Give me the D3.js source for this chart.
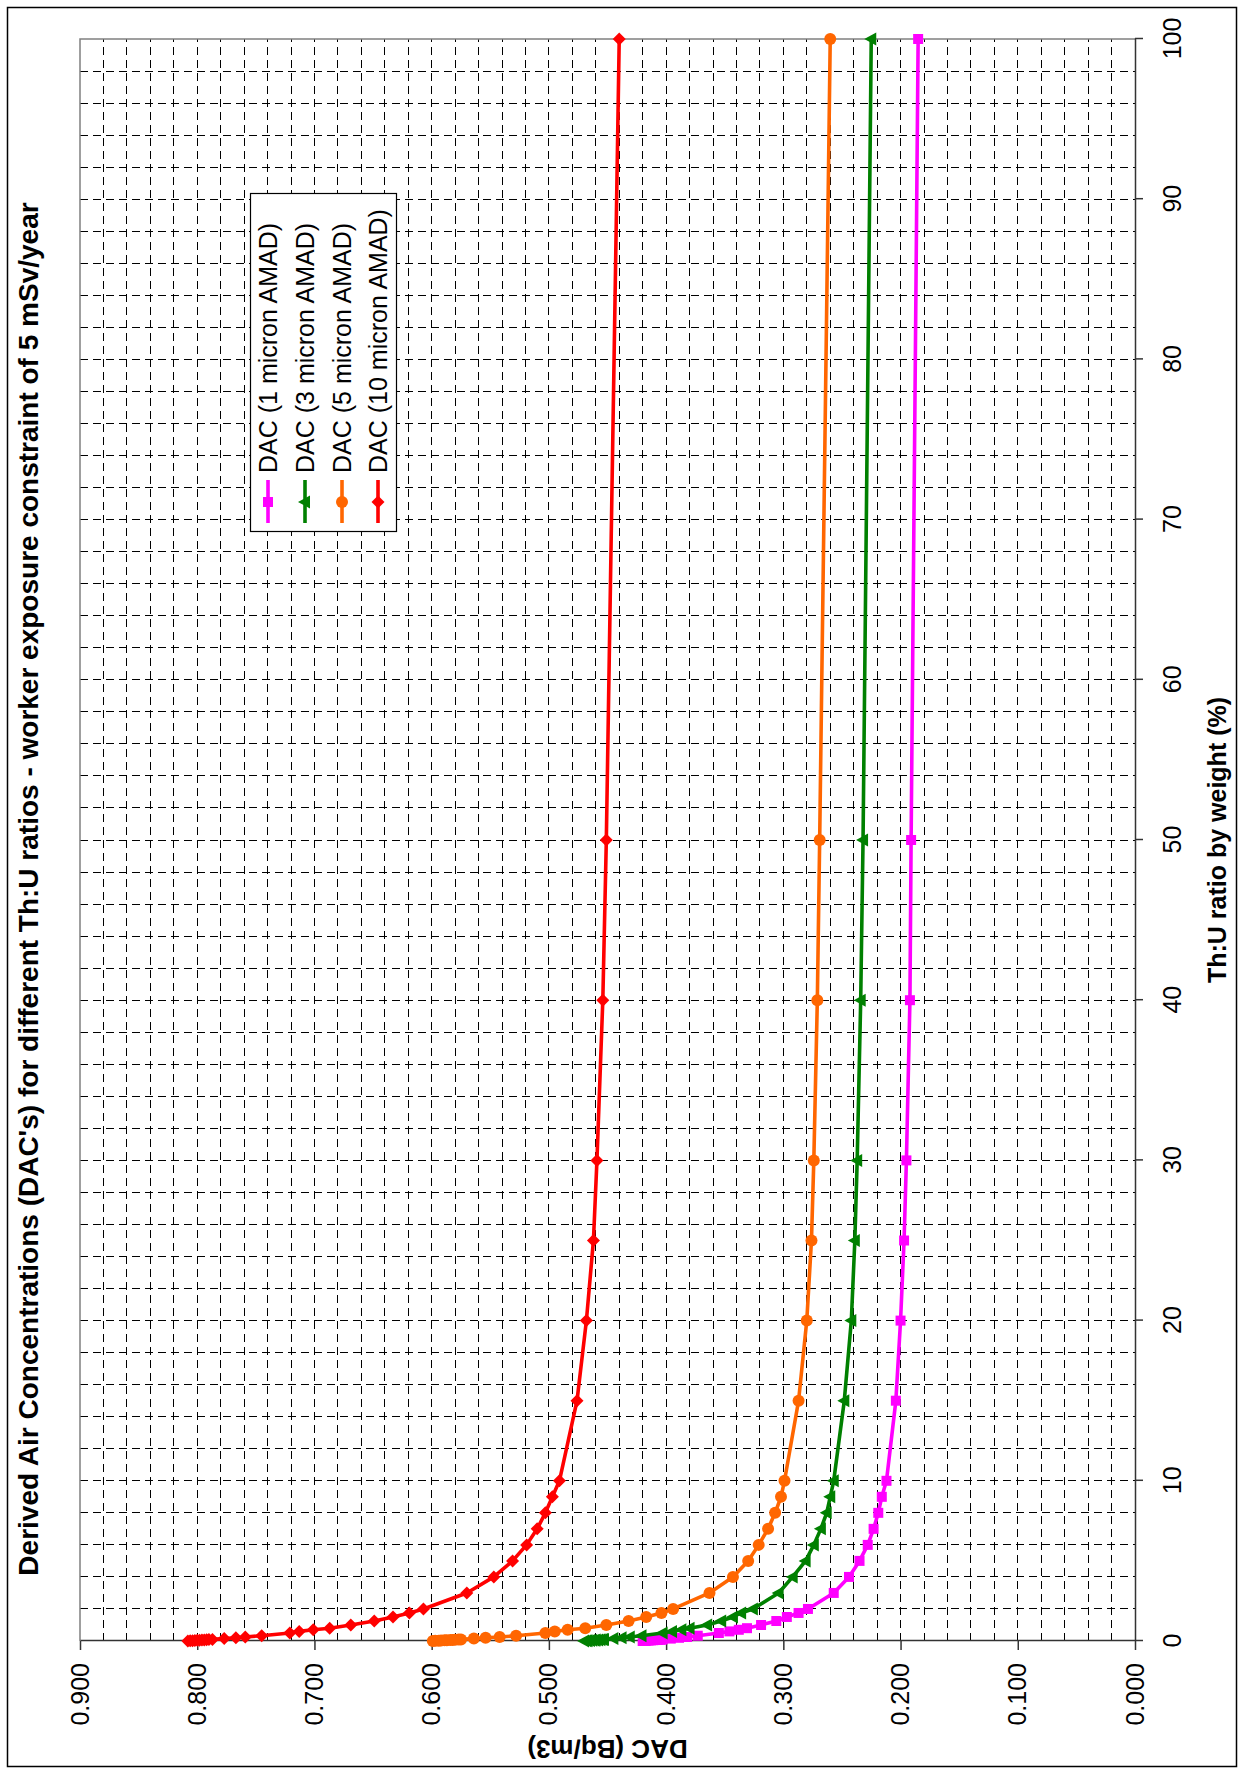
<!DOCTYPE html>
<html>
<head>
<meta charset="utf-8">
<script src="https://cdn.jsdelivr.net/npm/d3@7"></script>
<style>
  body { margin: 0; background: #fff; }
  svg { display: block; }
  text { font-family: "Liberation Sans", Arial, Helvetica, sans-serif; fill: #000; }
</style>
</head>
<body>
<svg id="chart" width="1243" height="1772"></svg>
<script>
// Th:U ratio by weight (%)
const thU = [0, 0.01, 0.02, 0.03, 0.04, 0.05, 0.06, 0.07, 0.08, 0.09, 0.1, 0.15, 0.2, 0.25, 0.33,
  0.5, 0.6, 0.7, 0.8, 1, 1.25, 1.5, 1.75, 2, 3, 4, 5, 6, 7, 8, 9, 10, 15, 20, 25, 30, 40, 50, 100];

// DAC (Bq/m3) per particle size
const dac1 = [0.420, 0.418, 0.417, 0.415, 0.413, 0.411, 0.409, 0.407, 0.405, 0.404, 0.403, 0.396, 0.389, 0.382, 0.373,
  0.355, 0.346, 0.338, 0.331, 0.319, 0.306, 0.297, 0.287, 0.279, 0.257, 0.244, 0.235, 0.228, 0.223, 0.219, 0.216, 0.212,
  0.204, 0.200, 0.197, 0.195, 0.192, 0.191, 0.185];
const dac3 = [0.470, 0.468, 0.467, 0.465, 0.463, 0.461, 0.460, 0.458, 0.456, 0.454, 0.453, 0.445, 0.438, 0.431, 0.421,
  0.403, 0.395, 0.387, 0.380, 0.365, 0.353, 0.343, 0.336, 0.326, 0.304, 0.292, 0.281, 0.274, 0.268, 0.263, 0.260, 0.257,
  0.248, 0.242, 0.239, 0.237, 0.234, 0.232, 0.225];
const dac5 = [0.599, 0.597, 0.594, 0.592, 0.589, 0.587, 0.584, 0.582, 0.580, 0.577, 0.575, 0.564, 0.554, 0.542, 0.528,
  0.503, 0.495, 0.484, 0.469, 0.451, 0.432, 0.417, 0.404, 0.394, 0.363, 0.343, 0.330, 0.321, 0.313, 0.307, 0.302, 0.299,
  0.287, 0.280, 0.276, 0.274, 0.271, 0.269, 0.260];
const dac10 = [0.808, 0.806, 0.804, 0.802, 0.800, 0.798, 0.796, 0.794, 0.792, 0.790, 0.787, 0.777, 0.767, 0.759, 0.745,
  0.721, 0.713, 0.701, 0.687, 0.669, 0.649, 0.633, 0.619, 0.607, 0.570, 0.547, 0.531, 0.519, 0.510, 0.503, 0.497, 0.491,
  0.476, 0.468, 0.462, 0.459, 0.454, 0.451, 0.440];

const seriesNames = ["DAC (1 micron AMAD)", "DAC (3 micron AMAD)", "DAC (5 micron AMAD)", "DAC (10 micron AMAD)"];
const seriesColors = ["#FF00FF", "#008000", "#FF6600", "#FF0000"];
const seriesMarkers = ["square", "triangle", "circle", "diamond"];

const xTicks = [0, 10, 20, 30, 40, 50, 60, 70, 80, 90, 100];
const yTicks = [0, 0.1, 0.2, 0.3, 0.4, 0.5, 0.6, 0.7, 0.8, 0.9];

const titleText = "Derived Air Concentrations (DAC's) for different Th:U ratios - worker exposure constraint of 5 mSv/year";
const xTitle = "Th:U ratio by weight (%)";
const yTitle = "DAC (Bq/m3)";

const W = 1243, H = 1772;
const svg = d3.select("#chart");
svg.append("rect").attr("width", W).attr("height", H).attr("fill", "#fff");

// chart frame
svg.append("rect")
  .attr("x", 7.5).attr("y", 7.5).attr("width", 1229).attr("height", 1759)
  .attr("fill", "none").attr("stroke", "#000").attr("stroke-width", 1.5);

// the whole chart is laid out landscape and turned a quarter turn
const g = svg.append("g").attr("transform", `translate(0,${H}) rotate(-90)`);

const plot = { left: 131, right: 1733, top: 80, bottom: 1135 };
const x = d3.scaleLinear().domain([0, 100]).range([plot.left, plot.right]);
const y = d3.scaleLinear().domain([0, 0.9]).range([plot.bottom, plot.top]);

// gridlines
const grid = g.append("g").attr("stroke", "#000").attr("stroke-width", 1)
  .attr("stroke-dasharray", "8,5").attr("shape-rendering", "crispEdges");
grid.selectAll("line.gx").data(d3.range(2, 100, 2)).join("line")
  .attr("class", "gx")
  .attr("x1", d => x(d)).attr("x2", d => x(d))
  .attr("y1", plot.top).attr("y2", plot.bottom);
grid.selectAll("line.gy").data(d3.range(1, 45).map(i => i * 0.02)).join("line")
  .attr("class", "gy")
  .attr("x1", plot.left).attr("x2", plot.right)
  .attr("y1", d => y(d)).attr("y2", d => y(d));

// plot area border (top / right)
g.append("path")
  .attr("d", `M${plot.left},${plot.top}H${plot.right}V${plot.bottom}`)
  .attr("fill", "none").attr("stroke", "#808080").attr("stroke-width", 1.5);

// axes
const xAxis = g.append("g").attr("transform", `translate(0,${plot.bottom})`)
  .call(d3.axisBottom(x).tickValues(xTicks).tickSize(8).tickSizeOuter(0).tickPadding(20).tickFormat(d3.format("d")));
const yAxis = g.append("g").attr("transform", `translate(${plot.left},0)`)
  .call(d3.axisLeft(y).tickValues(yTicks).tickSize(9).tickSizeOuter(0).tickPadding(13).tickFormat(d3.format(".3f")));
[xAxis, yAxis].forEach(a => {
  a.select(".domain").attr("stroke", "#333").attr("stroke-width", 1.5);
  a.selectAll(".tick line").attr("stroke", "#333").attr("stroke-width", 1.5);
  a.selectAll(".tick text").attr("font-size", 25).attr("font-family", "Liberation Sans, Arial, sans-serif").attr("fill", "#000");
});

// axis titles
g.append("text")
  .attr("x", (plot.left + plot.right) / 2).attr("y", 1226)
  .attr("text-anchor", "middle").attr("font-size", 25).attr("font-weight", "bold")
  .text(xTitle);
g.append("text")
  .attr("transform", `translate(32,${(plot.top + plot.bottom) / 2}) rotate(-90)`)
  .attr("text-anchor", "middle").attr("font-size", 26).attr("font-weight", "bold")
  .text(yTitle);

// chart title
g.append("text")
  .attr("x", 883).attr("y", 38)
  .attr("text-anchor", "middle").attr("font-size", 28).attr("font-weight", "bold")
  .text(titleText);

// markers
function markerPath(kind) {
  switch (kind) {
    case "square": return "M-5,-5H5V5H-5Z";
    case "triangle": return "M0,-7L6.5,5H-6.5Z";
    case "diamond": return "M0,-6.5L6.5,0L0,6.5L-6.5,0Z";
    default: return d3.symbol(d3.symbolCircle, Math.PI * 6 * 6)();
  }
}

const allSeries = [dac1, dac3, dac5, dac10];
const line = d3.line().x((d, i) => x(thU[i])).y(d => y(d));

allSeries.forEach((vals, si) => {
  const sg = g.append("g");
  sg.append("path").datum(vals)
    .attr("d", line)
    .attr("fill", "none").attr("stroke", seriesColors[si]).attr("stroke-width", 3.6)
    .attr("stroke-linejoin", "round");
  sg.selectAll("path.m").data(vals).join("path")
    .attr("class", "m")
    .attr("transform", (d, i) => `translate(${x(thU[i])},${y(d)})`)
    .attr("d", markerPath(seriesMarkers[si]))
    .attr("fill", seriesColors[si]);
});

// legend
const lg = g.append("g");
lg.append("rect").attr("x", 1240.5).attr("y", 250.5).attr("width", 338).attr("height", 146)
  .attr("fill", "#fff").attr("stroke", "#000").attr("stroke-width", 1.2);
const legendY = [268, 305, 342, 378];
seriesNames.forEach((name, si) => {
  const ly = legendY[si];
  lg.append("line").attr("x1", 1249).attr("x2", 1292).attr("y1", ly).attr("y2", ly)
    .attr("stroke", seriesColors[si]).attr("stroke-width", 3.6);
  lg.append("path").attr("transform", `translate(1270,${ly})`)
    .attr("d", markerPath(seriesMarkers[si])).attr("fill", seriesColors[si]);
  lg.append("text").attr("x", 1299).attr("y", ly).attr("dy", "0.36em")
    .attr("font-size", 25).text(name);
});
</script>
</body>
</html>
